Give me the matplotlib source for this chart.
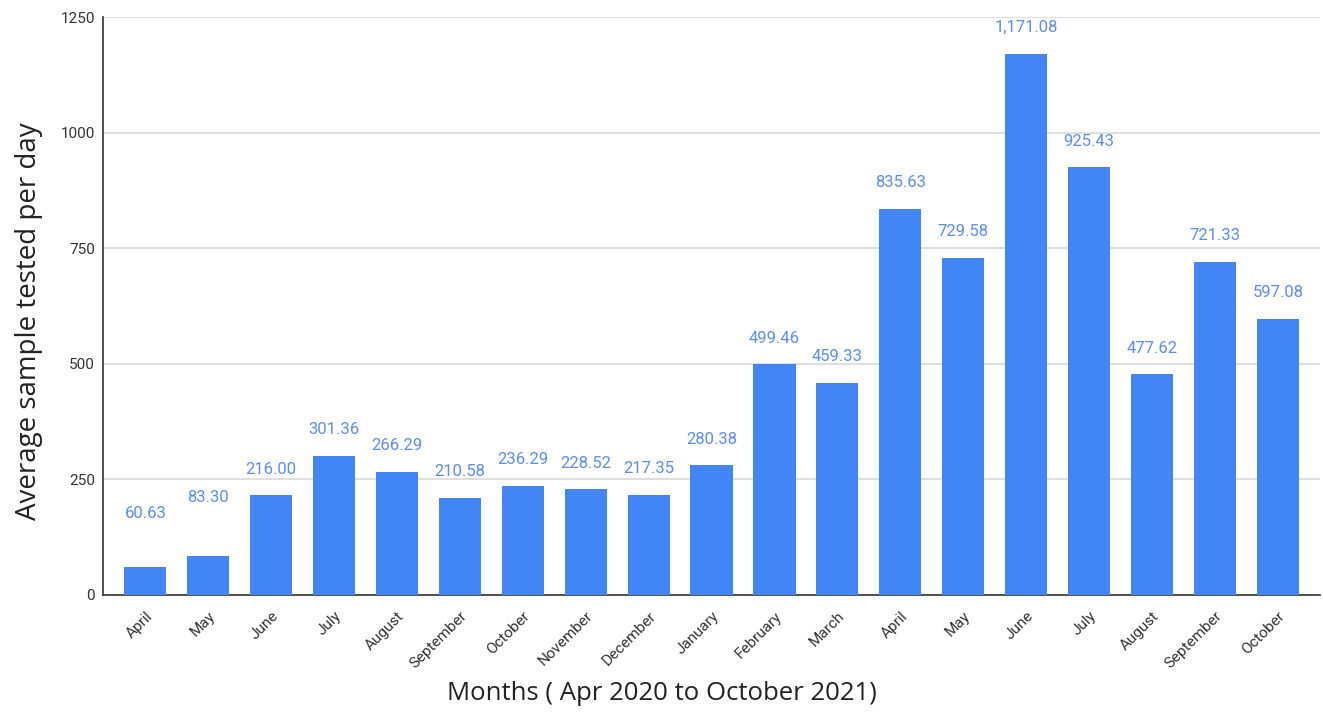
import matplotlib
matplotlib.use("Agg")
import matplotlib.pyplot as plt

months = ["April", "May", "June", "July", "August", "September", "October",
          "November", "December", "January", "February", "March", "April",
          "May", "June", "July", "August", "September", "October"]
avg_tested = [60.63, 83.30, 216.00, 301.36, 266.29, 210.58, 236.29, 228.52,
              217.35, 280.38, 499.46, 459.33, 835.63, 729.58, 1171.08, 925.43,
              477.62, 721.33, 597.08]
y_ticks = [0, 250, 500, 750, 1000, 1250]

bar_color = "#4285F4"
label_color = "#5B8EF0"

fig = plt.figure(figsize=(13.23, 7.13), dpi=100)
ax = fig.add_axes([0.078, 0.1655, 0.9197, 0.8105])

x = list(range(len(months)))
ax.bar(x, avg_tested, width=0.67, color=bar_color, zorder=3)

# value labels sit above each bar; the two shortest ones get pushed up a bit more
extra_lift = {0: 27, 1: 33}
for xi, v in zip(x, avg_tested):
    ax.annotate(f"{v:,.2f}", (xi, v), xytext=(0, 26 + extra_lift.get(xi, 0)),
                textcoords="offset pixels", ha="center", va="center",
                color=label_color, fontsize=12, family="Roboto")

ax.set_xlim(-0.67, len(months) - 0.33)
ax.set_ylim(0, 1250)
ax.set_yticks(y_ticks)
ax.set_yticklabels([str(t) for t in y_ticks], family="Roboto", fontsize=11, color="#333333")
ax.set_xticks(x)
ax.set_xticklabels(months, rotation=45, ha="right", rotation_mode="anchor",
                   family="Roboto", fontsize=11, color="#333333")
ax.tick_params(axis="both", length=0, pad=6)
ax.tick_params(axis="x", pad=10)

ax.grid(axis="y", color="#d9d9d9", linewidth=1.2, zorder=0)
for side in ["top", "right"]:
    ax.spines[side].set_visible(False)
ax.spines["left"].set_color("#333333")
ax.spines["bottom"].set_color("#333333")
ax.spines["left"].set_linewidth(1.2)
ax.spines["bottom"].set_linewidth(1.2)

fig.text(0.022, 0.55, "Average sample tested per day", rotation=90,
         ha="center", va="center", fontsize=20, family="Open Sans", color="#222222")
fig.text(0.5, 0.028, "Months ( Apr 2020 to October 2021)", ha="center", va="center",
         fontsize=18.5, family="Open Sans", color="#222222")

fig.savefig("out.png", dpi=100)
